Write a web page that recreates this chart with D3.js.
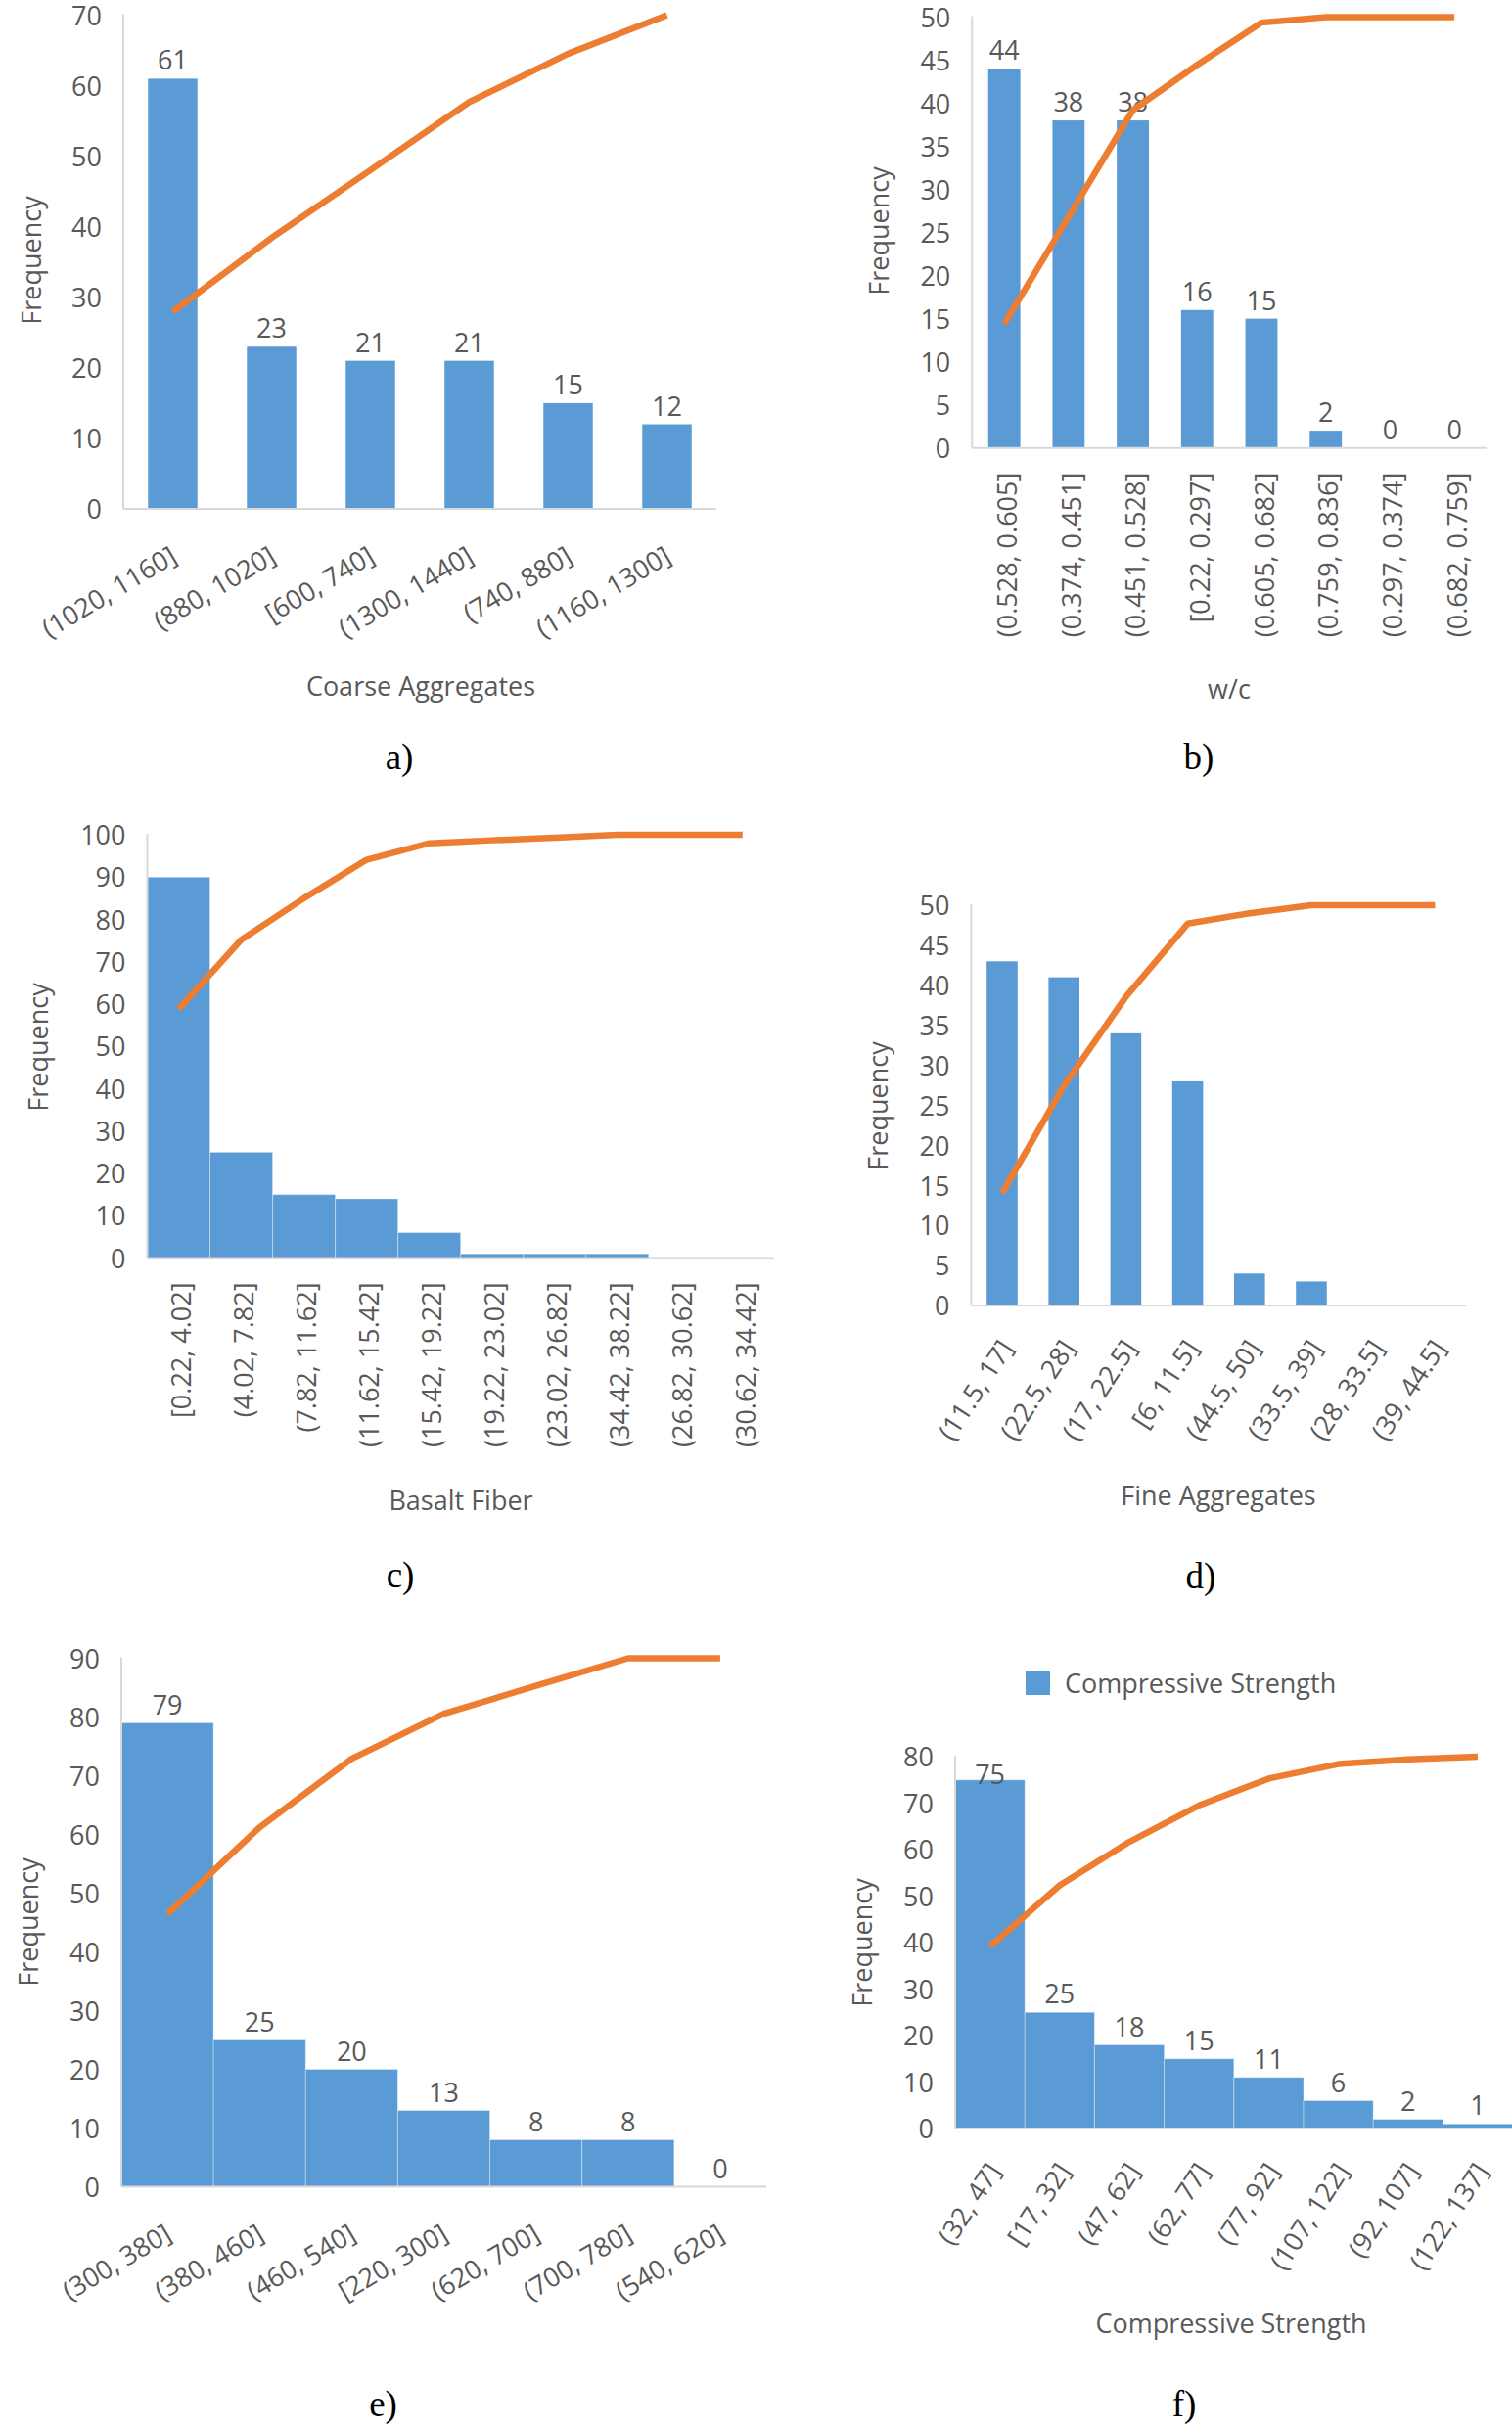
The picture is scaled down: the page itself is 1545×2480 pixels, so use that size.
<!DOCTYPE html>
<html><head><meta charset="utf-8">
<script src="https://cdn.jsdelivr.net/npm/d3@7"></script>
<style>
body{margin:0;background:#fff}
svg{display:block}
</style></head><body>
<svg id="chart" width="1545" height="2480"></svg>
<script>
// ---------- data ----------
const catsA = ["(1020, 1160]","(880, 1020]","[600, 740]","(1300, 1440]","(740, 880]","(1160, 1300]"];
const valsA = [61, 23, 21, 21, 15, 12];
const cumA  = [39.9, 54.9, 68.6, 82.4, 92.2, 100];
const ticksA = [0,10,20,30,40,50,60,70];

const catsB = ["(0.528, 0.605]","(0.374, 0.451]","(0.451, 0.528]","[0.22, 0.297]","(0.605, 0.682]","(0.759, 0.836]","(0.297, 0.374]","(0.682, 0.759]"];
const valsB = [44, 38, 38, 16, 15, 2, 0, 0];
const cumB  = [28.8, 53.6, 78.4, 88.9, 98.7, 100, 100, 100];
const ticksB = [0,5,10,15,20,25,30,35,40,45,50];

const catsC = ["[0.22, 4.02]","(4.02, 7.82]","(7.82, 11.62]","(11.62, 15.42]","(15.42, 19.22]","(19.22, 23.02]","(23.02, 26.82]","(34.42, 38.22]","(26.82, 30.62]","(30.62, 34.42]"];
const valsC = [90, 25, 15, 14, 6, 1, 1, 1, 0, 0];
const cumC  = [58.8, 75.2, 85.0, 94.1, 98.0, 98.7, 99.3, 100, 100, 100];
const ticksC = [0,10,20,30,40,50,60,70,80,90,100];

const catsD = ["(11.5, 17]","(22.5, 28]","(17, 22.5]","[6, 11.5]","(44.5, 50]","(33.5, 39]","(28, 33.5]","(39, 44.5]"];
const valsD = [43, 41, 34, 28, 4, 3, 0, 0];
const cumD  = [28.1, 54.9, 77.1, 95.4, 98.0, 100, 100, 100];
const ticksD = [0,5,10,15,20,25,30,35,40,45,50];

const catsE = ["(300, 380]","(380, 460]","(460, 540]","[220, 300]","(620, 700]","(700, 780]","(540, 620]"];
const valsE = [79, 25, 20, 13, 8, 8, 0];
const cumE  = [51.6, 68.0, 81.0, 89.5, 94.8, 100, 100];
const ticksE = [0,10,20,30,40,50,60,70,80,90];

const catsF = ["(32, 47]","[17, 32]","(47, 62]","(62, 77]","(77, 92]","(107, 122]","(92, 107]","(122, 137]"];
const valsF = [75, 25, 18, 15, 11, 6, 2, 1];
const cumF  = [49.0, 65.4, 77.1, 86.9, 94.1, 98.0, 99.3, 100];
const ticksF = [0,10,20,30,40,50,60,70,80];

// ---------- styles ----------
const FONT = '"Open Sans", "Segoe UI", sans-serif';
const TXT = '#595959';
const BAR = '#5B9BD5';
const LINE = '#ED7D31';
const AXIS = '#D9D9D9';

const svg = d3.select('#chart');

function panel(c) {
  const g = svg.append('g');
  const x = d3.scaleBand().domain(c.cats).range([c.x0, c.x1])
    .paddingInner(c.pad).paddingOuter(c.pad / 2);
  const y = d3.scaleLinear().domain([0, c.ticks[c.ticks.length - 1]]).range([c.yBot, c.yTop]);
  const y2 = d3.scaleLinear().domain([0, 100]).range([c.yBot, c.yTop]);
  const cx = (d, i) => x(c.cats[i]) + x.bandwidth() / 2;

  // bars
  g.selectAll('rect.bar').data(c.vals).join('rect')
    .attr('class', 'bar')
    .attr('x', (d, i) => x(c.cats[i]))
    .attr('y', d => y(d))
    .attr('width', x.bandwidth())
    .attr('height', d => c.yBot - y(d))
    .attr('fill', BAR)
    .attr('stroke', c.pad ? 'none' : 'rgba(255,255,255,0.35)')
    .attr('stroke-width', 1);

  // axis lines
  g.append('line').attr('x1', c.x0).attr('x2', c.x0).attr('y1', c.yTop - 1).attr('y2', c.yBot)
    .attr('stroke', AXIS).attr('stroke-width', 2);
  g.append('line').attr('x1', c.x0).attr('x2', c.x1).attr('y1', c.yBot).attr('y2', c.yBot)
    .attr('stroke', AXIS).attr('stroke-width', 2);

  // y axis
  const ya = g.append('g').attr('transform', `translate(${c.x0},0)`)
    .call(d3.axisLeft(y).tickValues(c.ticks).tickSize(0).tickPadding(22));
  ya.select('.domain').remove();
  ya.attr('font-family', null).attr('font-size', null);
  ya.selectAll('text').attr('font-family', FONT).attr('font-size', 27).attr('fill', TXT).attr('dy', '0.36em');

  // x axis
  const xa = g.append('g').attr('transform', `translate(0,${c.yBot})`)
    .call(d3.axisBottom(x).tickSize(0).tickPadding(0));
  xa.select('.domain').remove();
  xa.attr('font-family', null).attr('font-size', null);
  xa.selectAll('text')
    .attr('font-family', FONT).attr('font-size', 27).attr('fill', TXT)
    .attr('x', 0).attr('y', 0).attr('dy', '0.36em')
    .attr('text-anchor', 'end')
    .attr('transform', `translate(${c.ldx},${c.ldy}) rotate(${c.rot})`);

  // data labels
  if (c.labels) {
    g.selectAll('text.dl').data(c.vals).join('text')
      .attr('class', 'dl')
      .attr('x', cx)
      .attr('y', d => Math.max(y(d) - 9, c.yTop + 28))
      .attr('text-anchor', 'middle')
      .attr('font-family', FONT).attr('font-size', 27).attr('fill', TXT)
      .text(d => d);
  }

  // cumulative line
  const line = d3.line().x((d, i) => cx(d, i)).y(d => y2(d));
  g.append('path').datum(c.cum).attr('d', line)
    .attr('fill', 'none').attr('stroke', LINE).attr('stroke-width', 6.5)
    .attr('stroke-linejoin', 'round').attr('stroke-linecap', 'butt');

  // titles
  g.append('text').attr('transform', `translate(${c.yt[0]},${c.yt[1]}) rotate(-90)`)
    .attr('text-anchor', 'middle').attr('dy', '0.36em')
    .attr('font-family', FONT).attr('font-size', 27).attr('fill', TXT).text('Frequency');
  if (c.xTitle) {
    g.append('text').attr('x', c.xt[0]).attr('y', c.xt[1]).attr('dy', '0.36em')
      .attr('text-anchor', 'middle')
      .attr('font-family', FONT).attr('font-size', 27).attr('fill', TXT).text(c.xTitle);
  }
  g.append('text').attr('x', c.cap[0]).attr('y', c.cap[1])
    .attr('text-anchor', 'middle')
    .attr('font-family', '"Liberation Serif", "Times New Roman", serif')
    .attr('font-size', 37).attr('fill', '#000').text(c.caption);

  if (c.legend) {
    g.append('rect').attr('x', c.legend[0]).attr('y', c.legend[1]).attr('width', 25).attr('height', 24).attr('fill', BAR);
    g.append('text').attr('x', c.legend[0] + 40).attr('y', c.legend[1] + 12).attr('dy', '0.36em')
      .attr('font-family', FONT).attr('font-size', 27).attr('fill', TXT).text(c.legendText);
  }
}

panel({cats: catsA, vals: valsA, cum: cumA, ticks: ticksA,
  x0: 126, x1: 732, yTop: 15.5, yBot: 520, pad: 0.5, labels: true,
  rot: -31, ldx: 1, ldy: 45,
  xTitle: 'Coarse Aggregates', xt: [430, 701], yt: [32.7, 266], caption: 'a)', cap: [408, 786]});

panel({cats: catsB, vals: valsB, cum: cumB, ticks: ticksB,
  x0: 993.3, x1: 1519, yTop: 17.4, yBot: 457.7, pad: 0.5, labels: true,
  rot: -90, ldx: 3, ldy: 25,
  xTitle: 'w/c', xt: [1256, 704], yt: [898, 236], caption: 'b)', cap: [1225, 786]});

panel({cats: catsC, vals: valsC, cum: cumC, ticks: ticksC,
  x0: 150.5, x1: 790.8, yTop: 853, yBot: 1285.5, pad: 0, labels: false,
  rot: -90, ldx: 3, ldy: 25,
  xTitle: 'Basalt Fiber', xt: [471, 1533], yt: [39.5, 1070], caption: 'c)', cap: [409, 1622]});

panel({cats: catsD, vals: valsD, cum: cumD, ticks: ticksD,
  x0: 992.4, x1: 1498, yTop: 925, yBot: 1334, pad: 0.5, labels: false,
  rot: -57, ldx: 4, ldy: 38,
  xTitle: 'Fine Aggregates', xt: [1245, 1528], yt: [897, 1130], caption: 'd)', cap: [1227, 1623]});

panel({cats: catsE, vals: valsE, cum: cumE, ticks: ticksE,
  x0: 124, x1: 783, yTop: 1694.5, yBot: 2234.5, pad: 0, labels: true,
  rot: -31, ldx: 1, ldy: 45,
  xTitle: null, yt: [29.5, 1964], caption: 'e)', cap: [391.5, 2469]});

panel({cats: catsF, vals: valsF, cum: cumF, ticks: ticksF,
  x0: 976, x1: 1545.6, yTop: 1795, yBot: 2175, pad: 0, labels: true,
  rot: -57, ldx: 4, ldy: 38,
  xTitle: 'Compressive Strength', xt: [1258, 2374], yt: [881, 1985], caption: 'f)', cap: [1210, 2469],
  legend: [1048, 1708], legendText: 'Compressive Strength'});
</script>
</body></html>
